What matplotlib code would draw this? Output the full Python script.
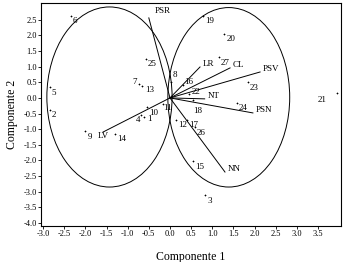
import matplotlib
matplotlib.use('Agg')
import matplotlib.pyplot as plt
from matplotlib.patches import Ellipse
import numpy as np

plt.rcParams['font.family'] = ['Liberation Serif', 'DejaVu Serif']

# scores of the observations (component 1, component 2)
obs_ids = ['1', '2', '3', '4', '5', '6', '7', '8', '9', '10', '11', '12', '13', '14',
           '15', '16', '17', '18', '19', '20', '21', '22', '23', '24', '25', '26', '27']
obs_x = [-0.61, -2.84, 0.83, -0.68, -2.84, -2.34, -0.73, 0.02, -2.00, -0.54, -0.17, 0.14, -0.66, -1.30,
         0.54, 0.31, 0.40, 0.54, 0.78, 1.28, 3.95, 0.45, 1.84, 1.58, -0.57, 0.59, 1.16]
obs_y = [-0.60, -0.38, -3.11, -0.54, 0.35, 2.63, 0.45, 0.52, -1.06, -0.29, -0.19, -0.70, 0.38, -1.15,
         -2.02, 0.42, -0.70, -0.06, 2.63, 2.05, 0.16, 0.13, 0.51, -0.16, 1.25, -0.93, 1.31]

# loadings of the variables
var_names = ['PSR', 'LR', 'CL', 'PSV', 'NT', 'PSN', 'NN', 'LV']
var_x = [-0.50, 0.71, 1.42, 2.13, 0.82, 1.96, 1.30, -1.58]
var_y = [2.56, 0.99, 0.96, 0.83, -0.03, -0.48, -2.37, -1.09]

# label placement (offset points) where the default does not fit
label_offsets = {'7': (-5, 1), '21': (-14, -5), '18': (0, -8), '22': (2, 1),
                 '16': (1, 2), '11': (0, -3), '1': (2, -2), '4': (-4, -4),
                 '8': (1, 5), '13': (2, -3)}

fig = plt.figure(figsize=(3.44, 2.62), dpi=100)
ax = fig.add_axes([0.119, 0.137, 0.872, 0.852])

# group ellipses
ax.add_patch(Ellipse((-1.43, 0.03), 2.96, 5.76, fill=False, lw=0.7, color='black'))
ax.add_patch(Ellipse((1.39, 0.02), 2.88, 5.74, fill=False, lw=0.7, color='black'))

ax.plot(obs_x, obs_y, linestyle='none', marker='+', markersize=2, mew=0.5, color='black')
for lab, x, y in zip(obs_ids, obs_x, obs_y):
    off = label_offsets.get(lab, (1.5, -4))
    ax.annotate(lab, (x, y), xytext=off, textcoords='offset points',
                fontsize=6.5, ha='left', va='center')

for name, x, y in zip(var_names, var_x, var_y):
    ax.plot([0, x], [0, y], color='black', lw=0.7)
    if name == 'PSR':
        off = (4, 5)
    elif name == 'LV':
        off = (-4, -3)
    else:
        off = (2, 2)
    ax.annotate(name, (x, y), xytext=off, textcoords='offset points',
                fontsize=6.5, ha='left', va='center')

ax.set_xlim(-3.05, 4.04)
ax.set_ylim(-4.1, 3.04)
ax.set_xticks(np.arange(-3.0, 3.51, 0.5))
ax.set_yticks(np.arange(-4.0, 2.51, 0.5))
ax.set_xticklabels(['%.1f' % v for v in np.arange(-3.0, 3.51, 0.5)])
ax.set_yticklabels(['%.1f' % v for v in np.arange(-4.0, 2.51, 0.5)])
ax.tick_params(labelsize=6, length=2, width=0.6, pad=1)
for s in ax.spines.values():
    s.set_linewidth(0.8)

ax.set_xlabel('Componente 1', fontsize=8.5, labelpad=9)
ax.set_ylabel('Componente 2', fontsize=8.5, labelpad=4)

fig.savefig('out.png', dpi=100)
